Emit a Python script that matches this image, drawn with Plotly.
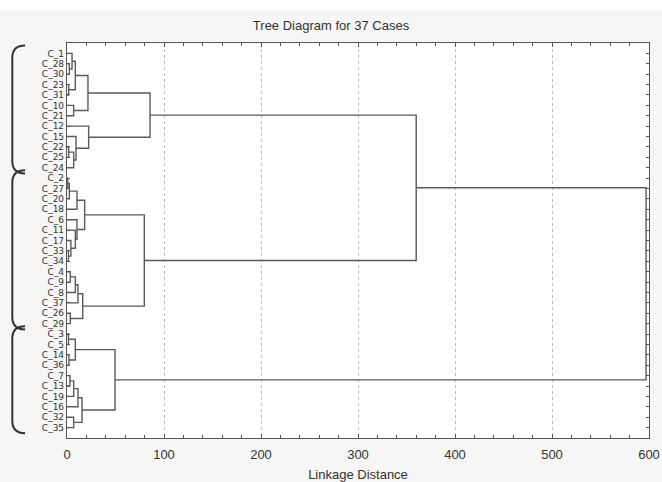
import plotly.graph_objects as go

# Leaf order from top to bottom
leaves = ["C_1", "C_28", "C_30", "C_23", "C_31", "C_10", "C_21", "C_12", "C_15",
          "C_22", "C_25", "C_24", "C_2", "C_27", "C_20", "C_18", "C_6", "C_11",
          "C_17", "C_33", "C_34", "C_4", "C_9", "C_8", "C_37", "C_26", "C_29",
          "C_3", "C_5", "C_14", "C_36", "C_7", "C_13", "C_19", "C_16", "C_32", "C_35"]

# Linkage: each merge joins two members (leaf name or index of an earlier merge)
merge_a = ["C_28", "C_1", "C_23", 1, "C_10", 3, "C_22", 6, "C_15", "C_12", 5,
           "C_2", 11, 12, "C_33", "C_17", "C_11", "C_6", 13, "C_4", 19, 20, "C_26", 21, 18, 10,
           "C_3", "C_14", 26, "C_7", 29, 30, "C_32", 31, 28, 25]
merge_b = ["C_30", 0, "C_31", 2, "C_21", 4, "C_25", "C_24", 7, 8, 9,
           "C_27", "C_20", "C_18", "C_34", 14, 15, 16, 17, "C_9", "C_8", "C_37", "C_29", 22, 23, 24,
           "C_5", "C_36", 27, "C_13", "C_19", "C_16", "C_35", 32, 33, 34]
merge_dist = [2.4, 5.2, 1.7, 8.6, 6.9, 21.6, 1.7, 6.9, 9.3, 22.3, 85.6,
              0.8, 2.4, 10.3, 1.5, 4.0, 8.6, 10.3, 18.2, 3.4, 8.6, 11.3, 3.4, 16.2, 79.7, 360.0,
              1.5, 2.0, 8.6, 3.0, 6.9, 11.3, 6.9, 15.5, 49.5, 597.0]

# Leaf groups marked by braces on the left
groups = [("C_1", "C_24"), ("C_2", "C_29"), ("C_3", "C_35")]

x_ticks = [0, 100, 200, 300, 400, 500, 600]

leaf_pos = {name: i + 1 for i, name in enumerate(leaves)}
node_pos, node_h = [], []


def locate(m):
    if isinstance(m, str):
        return leaf_pos[m], 0.0
    return node_pos[m], node_h[m]


xs, ys = [], []
for a, b, d in zip(merge_a, merge_b, merge_dist):
    ya, ha = locate(a)
    yb, hb = locate(b)
    xs += [ha, d, d, hb, None]
    ys += [ya, ya, yb, yb, None]
    node_pos.append((ya + yb) / 2)
    node_h.append(d)

fig = go.Figure()
fig.add_trace(go.Scatter(x=xs, y=ys, mode="lines",
                         line=dict(color="#5a5a5a", width=1.4),
                         hoverinfo="skip", showlegend=False))

shapes = []
# light band across the very top of the page
shapes.append(dict(type="rect", xref="paper", yref="paper", x0=-0.2, x1=1.1,
                   y0=1.0835, y1=1.12, fillcolor="white", line=dict(width=0),
                   layer="below"))

# braces that group the leaves
x_in, x_out = -0.072, -0.094
for first, last in groups:
    yt = leaf_pos[first] - 0.75
    yb = leaf_pos[last] + 0.55
    path = (f"M {x_in},{yt} Q {x_out},{yt} {x_out},{yt + 1.2} "
            f"L {x_out},{yb - 1.2} Q {x_out},{yb} {x_in},{yb}")
    shapes.append(dict(type="path", xref="paper", yref="y", path=path,
                       line=dict(color="#333333", width=2)))

fig.update_layout(
    width=662, height=482,
    margin=dict(l=67, r=13, t=43, b=44, autoexpand=False),
    paper_bgcolor="#f6f6f6",
    plot_bgcolor="white",
    font=dict(family="Liberation Sans, Arial, sans-serif", color="#333333", size=12),
    title=dict(text="Tree Diagram for 37 Cases", x=0.5, xanchor="center",
               y=1 - 25 / 482, yanchor="middle",
               font=dict(size=13, color="#333333")),
    shapes=shapes,
)

fig.update_xaxes(
    range=[0, 600], automargin=False,
    tickvals=x_ticks, ticktext=[str(v) for v in x_ticks],
    ticks="inside", ticklen=4, tickcolor="#555",
    minor=dict(dtick=20, ticks="inside", ticklen=3, tickcolor="#555", showgrid=False),
    showgrid=True, gridcolor="#bdbdbd", griddash="dot", gridwidth=1,
    showline=True, linecolor="#555555", linewidth=1.2, mirror="ticks",
    zeroline=False, ticklabelstandoff=4,
    title=dict(text="Linkage Distance", standoff=14, font=dict(size=13)),
    tickfont=dict(size=13, color="#333"),
)

fig.update_yaxes(
    range=[38, 0], automargin=False,
    tickvals=list(range(1, len(leaves) + 1)), ticktext=leaves,
    ticks="inside", ticklen=3, tickcolor="#555",
    tickangle=0,
    tickfont=dict(family="DejaVu Sans, sans-serif", size=9, color="#333"),
    showgrid=False, zeroline=False,
    showline=True, linecolor="#555555", linewidth=1.2, mirror="ticks",
)

fig.write_html("out.html")
